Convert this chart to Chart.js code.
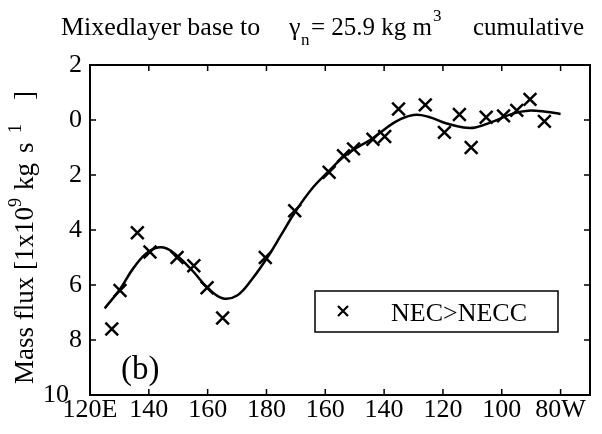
<!DOCTYPE html>
<html>
<head>
<meta charset="utf-8">
<script src="https://cdn.jsdelivr.net/npm/chart.js@4"></script>
<style>
  html, body { margin: 0; padding: 0; background: #fff; }
  #wrap { width: 602px; height: 434px; }
</style>
</head>
<body>
<div id="wrap"><canvas id="fluxChart" width="602" height="434"></canvas></div>
<script>
// longitude in degrees east (180 = dateline, 280 = 80W)
const crossLon = [127.4, 130.2, 136.1, 140.4, 149.6, 155.3, 159.8, 165.1, 179.6, 189.6,
    201.3, 206.2, 209.6, 216.2, 220.2, 224.9, 234.0, 240.5, 245.6, 249.6,
    254.7, 260.6, 265.1, 269.6, 274.5];
const crossFlux = [7.6, 6.2, 4.1, 4.8, 5.0, 5.3, 6.1, 7.2, 5.0, 3.3,
    1.9, 1.3, 1.05, 0.7, 0.6, -0.4, -0.55, 0.45, -0.2, 1.0,
    -0.1, -0.15, -0.35, -0.75, 0.05];

// smoothed curve
const curveLon = [125, 130, 135, 140, 145, 150, 155, 160, 165, 170, 175, 180, 185, 190,
    196, 201, 207, 216, 224, 230, 235, 241, 247, 251, 257, 264, 269, 275, 280];
const curveFlux = [6.85, 6.18, 5.35, 4.78, 4.64, 4.97, 5.5, 6.1, 6.48, 6.38, 5.8, 5.05, 4.18, 3.3,
    2.43, 1.88, 1.27, 0.67, 0.06, -0.18, -0.12, 0.12, 0.27, 0.27, 0.06, -0.24, -0.34, -0.3, -0.22];

const xTickValues = [120, 140, 160, 180, 200, 220, 240, 260, 280];
const xTickLabels = ['120E', '140', '160', '180', '160', '140', '120', '100', '80W'];
const yTickValues = [-2, 0, 2, 4, 6, 8, 10];

const serif = '"Liberation Serif", "DejaVu Serif", serif';

// frame, inward ticks, title, axis label, legend box and panel letter
const decorations = {
    id: 'decorations',
    afterDraw(chart) {
        const ctx = chart.ctx;
        const a = chart.chartArea;
        const xs = chart.scales.x;
        const ys = chart.scales.y;
        ctx.save();
        ctx.strokeStyle = '#000';
        ctx.lineWidth = 2;
        ctx.strokeRect(a.left, a.top, a.right - a.left, a.bottom - a.top);

        const tl = 6;
        ctx.lineWidth = 1.5;
        ctx.beginPath();
        xTickValues.forEach(v => {
            const px = xs.getPixelForValue(v);
            ctx.moveTo(px, a.bottom); ctx.lineTo(px, a.bottom - tl);
            ctx.moveTo(px, a.top); ctx.lineTo(px, a.top + tl);
        });
        yTickValues.forEach(v => {
            const py = ys.getPixelForValue(v);
            ctx.moveTo(a.left, py); ctx.lineTo(a.left + tl, py);
            ctx.moveTo(a.right, py); ctx.lineTo(a.right - tl, py);
        });
        ctx.stroke();

        ctx.fillStyle = '#000';
        ctx.textBaseline = 'alphabetic';

        // title
        const big = '25px ' + serif;
        const small = '17px ' + serif;
        ctx.font = '26px ' + serif;
        ctx.textAlign = 'left';
        ctx.fillText('Mixedlayer base to', 61, 35);
        ctx.fillText('\u03b3', 289, 35);
        ctx.font = small;
        ctx.fillText('n', 301, 45);
        ctx.font = big;
        ctx.fillText('= 25.9 kg m', 311, 35);
        ctx.font = small;
        ctx.fillText('3', 433, 21);
        ctx.font = big;
        ctx.fillText('cumulative', 473, 35);

        // y axis label, rotated, pieces placed by offset along the axis
        ctx.save();
        ctx.translate(33, 384);
        ctx.rotate(-Math.PI / 2);
        const lab = '27px ' + serif;
        const sup = '18px ' + serif;
        [
            ['Mass flux [1x10', lab, 0, 0],
            ['9', sup, 177, -12],
            ['kg', lab, 194, 0],
            ['s', lab, 231, 0],
            ['1', sup, 251, -12],
            [']', lab, 284, 0]
        ].forEach(([t, f, off, dy]) => {
            ctx.font = f;
            ctx.fillText(t, off, dy);
        });
        ctx.restore();

        // legend box
        const ds = chart.data.datasets[0];
        ctx.fillStyle = '#fff';
        ctx.fillRect(315, 291, 243, 41);
        ctx.lineWidth = 1.5;
        ctx.strokeRect(315, 291, 243, 41);
        ctx.lineWidth = 2.2;
        ctx.beginPath();
        ctx.moveTo(338, 306); ctx.lineTo(348, 316);
        ctx.moveTo(348, 306); ctx.lineTo(338, 316);
        ctx.stroke();
        ctx.fillStyle = '#000';
        ctx.font = '26px ' + serif;
        ctx.fillText(ds.label, 391, 321);

        // panel letter
        ctx.font = '33px ' + serif;
        ctx.fillText('(b)', 121, 379);
        ctx.restore();
    }
};

new Chart(document.getElementById('fluxChart'), {
    data: {
        datasets: [{
            type: 'scatter',
            label: 'NEC>NECC',
            data: crossLon.map((v, i) => ({ x: v, y: crossFlux[i] })),
            pointStyle: 'crossRot',
            radius: 9,
            borderColor: '#000',
            borderWidth: 2.5
        }, {
            type: 'line',
            label: 'fit',
            data: curveLon.map((v, i) => ({ x: v, y: curveFlux[i] })),
            borderColor: '#000',
            borderWidth: 2.5,
            pointRadius: 0,
            tension: 0.4,
            fill: false
        }]
    },
    options: {
        responsive: false,
        animation: false,
        layout: { padding: { top: 65, right: 12, left: 0, bottom: 0 } },
        plugins: {
            legend: { display: false },
            tooltip: { enabled: false }
        },
        scales: {
            x: {
                type: 'linear',
                min: 120,
                max: 290,
                grid: { display: false, drawTicks: false },
                border: { display: false },
                afterBuildTicks: scale => {
                    scale.ticks = xTickValues.map(v => ({ value: v }));
                },
                afterFit: scale => { scale.height = 39; },
                ticks: {
                    padding: 0,
                    autoSkip: false,
                    maxRotation: 0,
                    color: '#000',
                    font: { family: serif, size: 26 },
                    callback: (v) => xTickLabels[xTickValues.indexOf(v)]
                }
            },
            y: {
                type: 'linear',
                reverse: true,
                min: -2,
                max: 10,
                grid: { display: false, drawTicks: false },
                border: { display: false },
                afterBuildTicks: scale => {
                    scale.ticks = yTickValues.map(v => ({ value: v }));
                },
                afterFit: scale => { scale.width = 90; },
                ticks: {
                    padding: 8,
                    color: '#000',
                    font: { family: serif, size: 26 },
                    callback: (v) => v === 10 ? '10  ' : String(Math.abs(v))
                }
            }
        }
    },
    plugins: [decorations]
});
</script>
</body>
</html>
